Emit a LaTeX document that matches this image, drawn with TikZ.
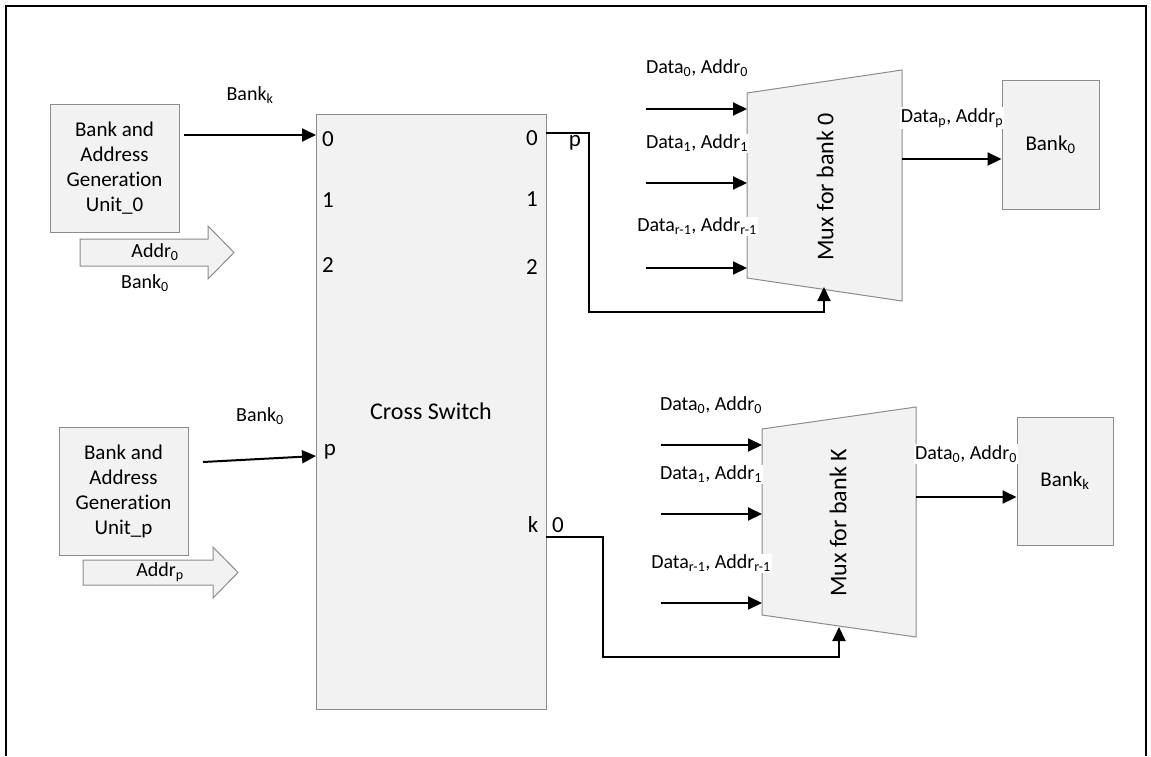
\documentclass[tikz,border=0pt]{standalone}
\usepackage{fontspec}
\setmainfont{Carlito}[RawFeature=-liga]
\usetikzlibrary{arrows.meta,calc}
\definecolor{boxfill}{HTML}{F2F2F2}
\definecolor{boxline}{HTML}{8C8C8C}
\newcommand{\sub}[1]{\textsubscript{#1}}
\begin{document}
\begin{tikzpicture}[x=1pt,y=-1pt,
  box/.style={draw=boxline, fill=boxfill, line width=1pt, align=center, inner sep=0pt,
    font=\fontsize{21}{25}\selectfont},
  muxshape/.style={draw=boxline, fill=boxfill, line width=1pt},
  conn/.style={line width=2pt, -{Triangle[length=14pt,width=13pt]}},
  lbl/.style={font=\fontsize{20}{22}\selectfont, inner sep=1pt},
  lblw/.style={lbl, fill=white},
  port/.style={font=\fontsize{23}{25}\selectfont, inner sep=0pt},
  bigtext/.style={font=\fontsize{24}{26}\selectfont, inner sep=0pt},
  blockarrow/.style={draw=boxline, fill=boxfill, line width=1pt},
]
\useasboundingbox (0,0) rectangle (1151,756);
\fill[white] (0,0) rectangle (1151,756);
% frame
\draw[line width=1.5pt] (6,756) -- (6,6) -- (1146,6) -- (1146,756);

% ---------- boxes ----------
\node[box, minimum width=129pt, minimum height=128pt] (unit0) at (114.5,168)
  {Bank and\\Address\\Generation\\Unit\_0};
\node[box, minimum width=129pt, minimum height=128pt] (unitp) at (123.5,491)
  {Bank and\\Address\\Generation\\Unit\_p};
\node[box, minimum width=230pt, minimum height=595pt, font=\fontsize{24}{26}\selectfont] (cross) at (431,411.5)
  {Cross Switch};
\node[box, minimum width=97pt, minimum height=129pt] (bank0) at (1050.5,144.5) {Bank\sub{0}};
\node[box, minimum width=96pt, minimum height=128pt] (bankk) at (1065,481) {Bank\sub{k}};

% ---------- muxes ----------
\coordinate (m0a) at (747,93);
\coordinate (m0b) at (902,70);
\coordinate (m0c) at (902,301);
\coordinate (m0d) at (747,278);
\draw[muxshape] (m0a) -- (m0b) -- (m0c) -- (m0d) -- cycle;
\node[bigtext, rotate=90] (mux0) at (825,187) {Mux for bank 0};

\coordinate (mka) at (762,429);
\coordinate (mkb) at (916,407);
\coordinate (mkc) at (916,637);
\coordinate (mkd) at (762,615);
\draw[muxshape] (mka) -- (mkb) -- (mkc) -- (mkd) -- cycle;
\node[bigtext, rotate=90] (muxk) at (838,523) {Mux for bank K};

% ---------- block arrows ----------
\draw[blockarrow] (80,239) -- (208,239) -- (208,226) -- (234,252.5) -- (208,279)
  -- (208,266) -- (80,266) -- cycle;
\node[lbl] (addr0) at (155,252) {Addr\sub{0}};
\draw[blockarrow] (83,560) -- (213,560) -- (213,547) -- (238,572.5) -- (213,598)
  -- (213,585) -- (83,585) -- cycle;
\node[lbl] (addrp) at (160,572) {Addr\sub{p}};

% ---------- port labels ----------
\node[port] (L0) at (328,139) {0};
\node[port] (L1) at (328,200) {1};
\node[port] (L2) at (328,265) {2};
\node[port] (Lp) at (330,452) {p};
\node[port] (R0) at (532,138) {0};
\node[port] (R1) at (532,199) {1};
\node[port] (R2) at (532,267) {2};
\node[port] (Rk) at (533,525) {k};
\node[port] (Rk0) at (558,525) {0};
\node[port] (Rp) at (575,143) {p};

% ---------- left labels ----------
\node[lbl] (bk) at (250,95) {Bank\sub{k}};
\node[lbl] (b0a) at (145,283) {Bank\sub{0}};
\node[lbl] (b0b) at (260,416) {Bank\sub{0}};

% ---------- left connectors ----------
\coordinate (u0s) at (184,135);
\coordinate (u0e) at (316,135);
\draw[conn] (u0s) -- (u0e);
\coordinate (ups) at (203,462);
\coordinate (upe) at (316,456);
\draw[conn] (ups) -- (upe);

% ---------- top mux inputs ----------
\coordinate (t1s) at (646,109); \coordinate (t1e) at (747,109);
\coordinate (t2s) at (646,183); \coordinate (t2e) at (747,183);
\coordinate (t3s) at (646,268); \coordinate (t3e) at (747,268);
\draw[conn] (t1s) -- (t1e);
\draw[conn] (t2s) -- (t2e);
\draw[conn] (t3s) -- (t3e);
\node[lblw] (td0) at (697,68) {Data\sub{0}, Addr\sub{0}};
\node[lblw] (td1) at (697,143) {Data\sub{1}, Addr\sub{1}};
\node[lblw] (td2) at (697,226) {Data\sub{r-1}, Addr\sub{r-1}};

% ---------- bottom mux inputs ----------
\coordinate (b1s) at (661,445); \coordinate (b1e) at (762,445);
\coordinate (b2s) at (661,514); \coordinate (b2e) at (762,514);
\coordinate (b3s) at (661,603); \coordinate (b3e) at (762,603);
\draw[conn] (b1s) -- (b1e);
\draw[conn] (b2s) -- (b2e);
\draw[conn] (b3s) -- (b3e);
\node[lblw] (bd0) at (711,405) {Data\sub{0}, Addr\sub{0}};
\node[lblw] (bd1) at (711,474) {Data\sub{1}, Addr\sub{1}};
\node[lblw] (bd2) at (711,563) {Data\sub{r-1}, Addr\sub{r-1}};

% ---------- select lines ----------
\coordinate (f0s) at (546,133);
\coordinate (f0e) at (824,287);
\draw[conn] (f0s) -- (589,133) -- (589,312) -- (824,312) -- (f0e);
\coordinate (fks) at (546,537);
\coordinate (fke) at (839,627);
\draw[conn] (fks) -- (603,537) -- (603,657) -- (839,657) -- (fke);

% ---------- outputs ----------
\coordinate (o0s) at (902,159);
\draw[conn] (o0s) -- (bank0.west |- o0s);
\coordinate (oks) at (916,497);
\draw[conn] (oks) -- (bankk.west |- oks);
\node[lblw] (od0) at (952,118) {Data\sub{p}, Addr\sub{p}};
\node[lblw] (odk) at (966,454) {Data\sub{0}, Addr\sub{0}};
\end{tikzpicture}
\end{document}
